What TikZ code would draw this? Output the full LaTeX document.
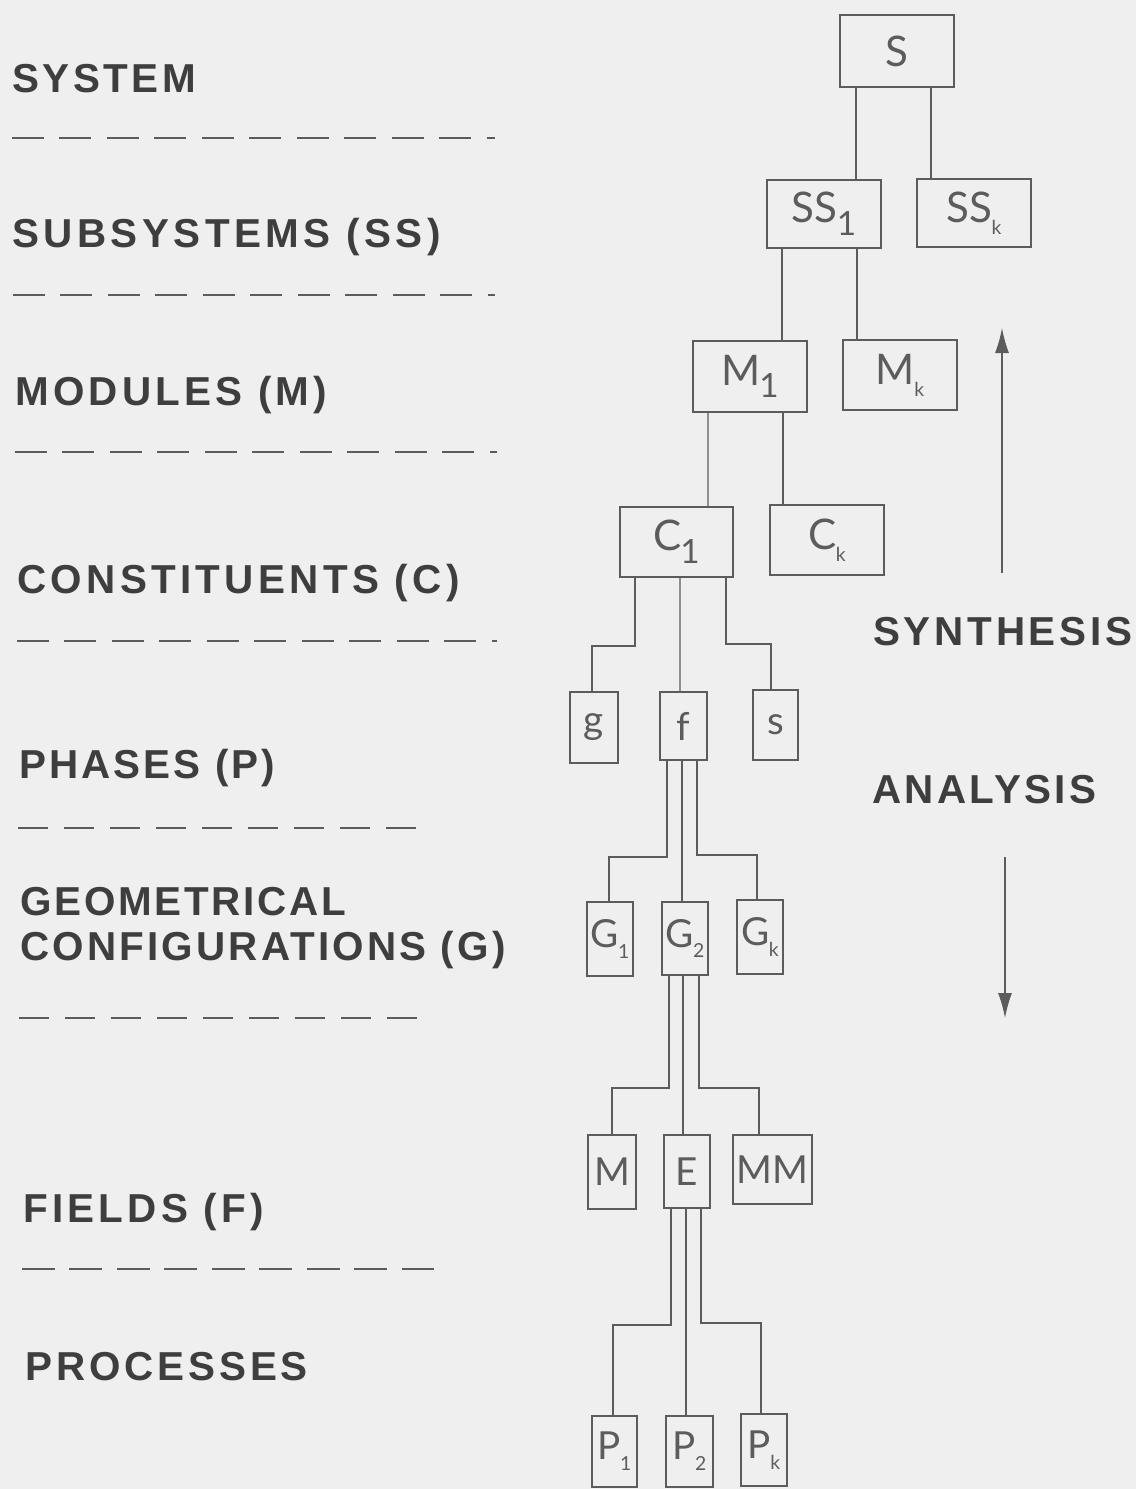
\documentclass[tikz,border=0pt]{standalone}
\usepackage{fontspec}
\usetikzlibrary{calc,arrows.meta}
\newfontfamily\labfont{Liberation Sans}
\newfontfamily\boxfont{Lato}
\definecolor{bg}{HTML}{EFEFEF}
\definecolor{ink}{HTML}{5C5C5C}
\definecolor{labink}{HTML}{3E3E3E}
\newcommand\sbig[1]{\kern-0.02em\raisebox{-0.3em}{\fontsize{19}{19}\selectfont #1}}
\newcommand\ssm[1]{\kern-0.02em\raisebox{-0.28em}{\fontsize{11}{11}\selectfont #1}}
\newcommand\ls[2]{{\addfontfeature{LetterSpace=#1}#2}}
\begin{document}
\begin{tikzpicture}[x=0.02cm,y=-0.02cm,
  bx/.style={draw=ink,line width=1.1pt,inner sep=0pt,outer sep=0pt,text=ink,font=\boxfont\fontsize{24}{24}\selectfont},
  sbx/.style={bx,font=\boxfont\fontsize{22}{22}\selectfont},
  conn/.style={draw=ink,line width=0.8pt},
  lvl/.style={anchor=base west,inner sep=0pt,text=labink,font=\labfont\bfseries\fontsize{23}{23}\selectfont},
  dashA/.style={draw=ink,line width=1.1pt,dash pattern=on 0.64cm off 0.31cm},
  dashB/.style={draw=ink,line width=1.1pt,dash pattern=on 0.6cm off 0.32cm},
  dashC/.style={draw=ink,line width=1.1pt,dash pattern=on 0.66cm off 0.29cm},
  arr/.style={draw=ink,line width=0.8pt,-{Latex[length=0.5cm,width=0.28cm]}}]
\useasboundingbox (0,0) rectangle (1136,1489);
\fill[bg] (0,0) rectangle (1136,1489);

% level labels
\node[lvl] (lsys) at (12,92) {\ls{8.6}{SYSTEM}};
\node[lvl] (lss) at (12,247) {\ls{11}{SUBSYSTEMS (SS)}};
\node[lvl] (lmod) at (15,405) {\ls{10.5}{MODULES (M)}};
\node[lvl] (lcon) at (17,593) {\ls{10.7}{CONSTITUENTS (C)}};
\node[lvl] (lpha) at (19,778) {\ls{7.6}{PHASES (P)}};
\node[lvl] (lgeo) at (20,915) {\ls{6.8}{GEOMETRICAL}};
\node[lvl] (lgeob) at (20,960) {\ls{7.8}{CONFIGURATIONS (G)}};
\node[lvl] (lfie) at (23,1222) {\ls{10.5}{FIELDS (F)}};
\node[lvl] (lpro) at (25,1380) {\ls{9.6}{PROCESSES}};
\node[lvl] (lsyn) at (873,645) {\ls{9.2}{SYNTHESIS}};
\node[lvl] (lana) at (872,803) {\ls{8.3}{ANALYSIS}};

% dashed separators
\draw[dashA] (12,138) -- (495,138);
\draw[dashA] (13,295) -- (495,295);
\draw[dashA] (15,452) -- (497,452);
\draw[dashA] (17,641) -- (497,641);
\draw[dashB] (18,828) -- (418,828);
\draw[dashB] (19,1018) -- (418,1018);
\draw[dashC] (22,1269) -- (434,1269);

% boxes
\node[bx,minimum width=2.28cm,minimum height=1.44cm] (nS) at (897,51) {S};
\node[bx,minimum width=2.28cm,minimum height=1.36cm] (nSS1) at (824,214) {SS\sbig{1}};
\node[bx,minimum width=2.28cm,minimum height=1.36cm] (nSSk) at (974,213) {SS\ssm{k}};
\node[bx,minimum width=2.28cm,minimum height=1.42cm] (nM1) at (750,376.5) {M\sbig{1}};
\node[bx,minimum width=2.28cm,minimum height=1.40cm] (nMk) at (900,375) {M\ssm{k}};
\node[bx,minimum width=2.26cm,minimum height=1.40cm] (nC1) at (676.5,542) {C\sbig{1}};
\node[bx,minimum width=2.28cm,minimum height=1.40cm] (nCk) at (827,540) {C\ssm{k}};
\node[sbx,minimum width=0.96cm,minimum height=1.42cm] (ng) at (594,727.5) {g};
\node[sbx,minimum width=0.94cm,minimum height=1.36cm] (nf) at (683.5,726) {f};
\node[sbx,minimum width=0.90cm,minimum height=1.40cm] (ns) at (775.5,725) {s};
\node[sbx,minimum width=0.92cm,minimum height=1.48cm] (nG1) at (610,939) {G\ssm{1}};
\node[sbx,minimum width=0.92cm,minimum height=1.46cm] (nG2) at (685,938.5) {G\ssm{2}};
\node[sbx,minimum width=0.92cm,minimum height=1.48cm] (nGk) at (760,937) {G\ssm{k}};
\node[sbx,minimum width=0.96cm,minimum height=1.48cm] (nM) at (612,1172) {M};
\node[sbx,minimum width=0.92cm,minimum height=1.46cm] (nE) at (687,1171.5) {E};
\node[sbx,minimum width=1.58cm,minimum height=1.38cm] (nMM) at (772.5,1169.5) {MM};
\node[sbx,minimum width=0.90cm,minimum height=1.42cm] (nP1) at (614.5,1451.5) {P\ssm{1}};
\node[sbx,minimum width=0.94cm,minimum height=1.42cm] (nP2) at (689.5,1451.5) {P\ssm{2}};
\node[sbx,minimum width=0.92cm,minimum height=1.44cm] (nPk) at (764,1450) {P\ssm{k}};

% connectors
\newcommand\vc[4]{\draw[conn] ($(#1.south west)+(#2,0)$) -- ($(#3.north west)+(#4,0)$);}
\newcommand\ec[5]{\draw[conn] ($(#1.south west)+(#2,0)$) -- ++(0,#3) -| ($(#4.north west)+(#5,0)$);}
\vc{nS}{16}{nSS1}{89}
\vc{nS}{91}{nSSk}{14}
\vc{nSS1}{15}{nM1}{89}
\vc{nSS1}{90}{nMk}{14}
\vc{nM1}{15}{nC1}{88}
\vc{nM1}{90}{nCk}{13}
\ec{nC1}{15}{69}{ng}{22}
\vc{nC1}{60}{nf}{20}
\ec{nC1}{106}{67}{ns}{18}
\ec{nf}{7}{97}{nG1}{22}
\vc{nf}{22}{nG2}{20}
\ec{nf}{37}{95}{nGk}{20}
\ec{nG2}{7}{113}{nM}{24}
\vc{nG2}{21}{nE}{19}
\ec{nG2}{37}{113}{nMM}{26}
\ec{nE}{7}{117}{nP1}{21}
\vc{nE}{22}{nP2}{20}
\ec{nE}{37}{115}{nPk}{20}

% synthesis / analysis arrows
\coordinate (synA) at (1002,573);
\coordinate (synB) at (1002,328);
\coordinate (anaA) at (1005,857);
\coordinate (anaB) at (1005,1018);
\draw[arr] (synA) -- (synB);
\draw[arr] (anaA) -- (anaB);
\end{tikzpicture}
\end{document}
